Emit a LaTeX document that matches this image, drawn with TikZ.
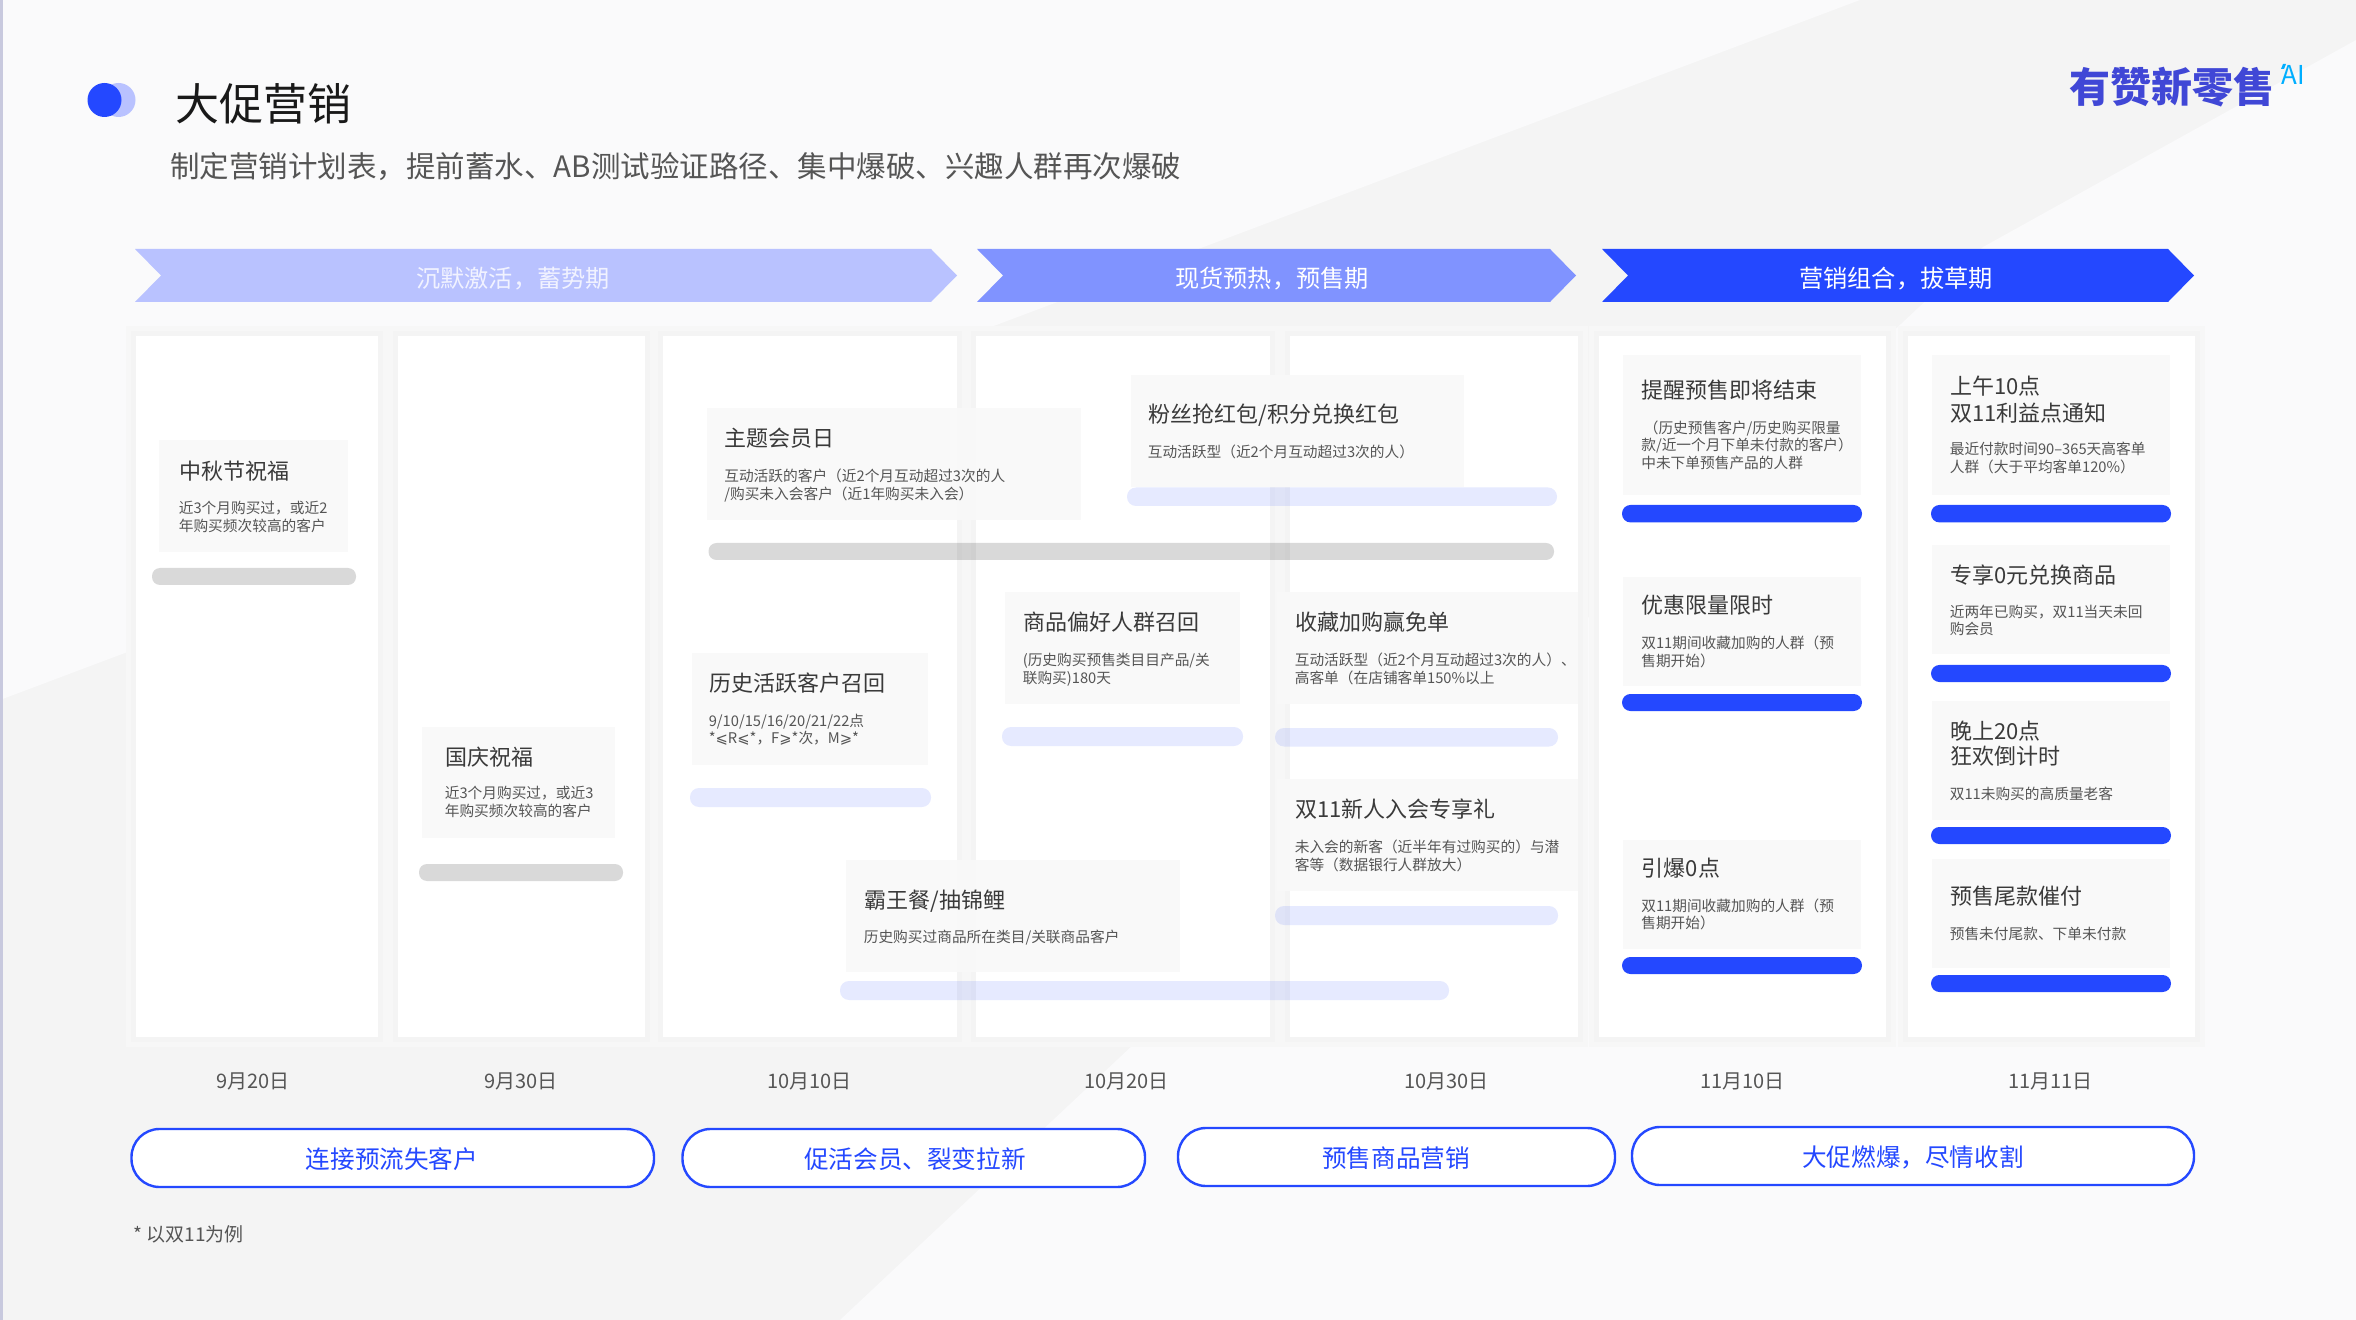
\documentclass[tikz,border=0pt]{standalone}
\usepackage{fontspec}
\setmainfont{Noto Sans CJK SC}
\newfontfamily\symf{DejaVu Sans}
\definecolor{bluex}{HTML}{2448FF}
\definecolor{midx}{HTML}{8093FF}
\definecolor{palex}{HTML}{B9C2FF}
\definecolor{boxx}{HTML}{F9F9F9}
\definecolor{gapx}{HTML}{F4F4F4}
\definecolor{gapy}{HTML}{F7F7F7}
\definecolor{bglight}{HTML}{FAFAFB}
\definecolor{stripex}{HTML}{C8C9DE}
\definecolor{brandx}{HTML}{4047D6}
\definecolor{aix}{HTML}{00AEFF}
\definecolor{ttlx}{HTML}{3A3A3A}
\definecolor{dscx}{HTML}{555555}
\tikzset{
  x=0.5pt,y=-0.5pt,
  colcard/.style={fill=white},
  colshadow/.style={fill=gapx},
  colhalo/.style={fill=gapy},
  cardbox/.style={fill=boxx,fill opacity=.9},
  greybar/.style={fill=black,fill opacity=.15,rounded corners=4pt},
  lightbar/.style={fill=bluex,fill opacity=.115,rounded corners=4.5pt},
  bluebar/.style={fill=bluex,rounded corners=4.2pt},
  cardtitle/.style={anchor=base west,inner sep=0pt,yshift=-.6pt,text=ttlx,font=\fontsize{11}{13}\selectfont},
  carddesc/.style={anchor=base west,inner sep=0pt,yshift=-.6pt,xshift=-.3pt,text=dscx,font=\fontsize{7.35}{9}\selectfont},
  datelabel/.style={anchor=base,inner sep=0pt,yshift=-.6pt,xshift=.6pt,text=dscx,font=\fontsize{10}{12}\selectfont},
  pill/.style={draw=bluex,line width=1.2pt,fill=white,rounded corners=14pt},
  pilltext/.style={inner sep=0pt,anchor=base,yshift=-.6pt,text=bluex,font=\fontsize{12.3}{14}\selectfont},
  arrowtext/.style={inner sep=0pt,anchor=base,yshift=-.6pt,font=\fontsize{12.1}{14}\selectfont}
}
\begin{document}
\begin{tikzpicture}
\useasboundingbox (0,0) rectangle (2356,1320);
% background
\fill[gapx] (0,0) rectangle (2356,1320);
\fill[bglight] (0,0) -- (1860,0) -- (0,700) -- cycle;
\fill[bglight] (2356,40) -- (1983,247) -- (840,1320) -- (2356,1320) -- cycle;
\fill[stripex] (0,0) rectangle (2.5,1320);
% logo dot and titles
\fill[palex] (118.5,100) circle[radius=17];
\fill[bluex] (104.5,100) circle[radius=17];
\node[anchor=base west,inner sep=0pt,text=black!90,font=\fontsize{22}{26}\selectfont] (maintitle) at (175,120.5) {大促营销};
\node[anchor=base west,inner sep=0pt,text=dscx,font=\fontsize{14.75}{18}\selectfont] (subtitle) at (170,177.5) {制定营销计划表，提前蓄水、AB测试验证路径、集中爆破、兴趣人群再次爆破};
\node[anchor=base west,inner sep=0pt,text=brandx,font=\bfseries\fontsize{20.5}{24}\selectfont] (brand) at (2069,102.5) {有赞新零售};
\node[anchor=base west,inner sep=0pt,text=aix,font=\fontsize{13}{15}\selectfont] (brandai) at (2281,85) {AI};
\fill[aix] (2283,64) -- (2286,64) -- (2284,69) -- (2281,69) -- cycle;
% arrows
\fill[palex] (135,249) -- (931,249) -- (957,275.5) -- (931,302) -- (135,302) -- (161,275.5) -- cycle;
\fill[midx] (977,249) -- (1550,249) -- (1576,275.5) -- (1550,302) -- (977,302) -- (1003,275.5) -- cycle;
\fill[bluex] (1602,249) -- (2168,249) -- (2194,275.5) -- (2168,302) -- (1602,302) -- (1628,275.5) -- cycle;
\node[arrowtext,text=white,text opacity=.8] (phasea) at (513,286) {沉默激活，蓄势期};
\node[arrowtext,text=white] (phaseb) at (1272,286) {现货预热，预售期};
\node[arrowtext,text=white] (phasec) at (1896,286) {营销组合，拔草期};
% columns
\foreach \a/\b in {136/378,398/645,663/957,976/1270,1290/1577.5,1599/1886,1908/2195}{
  \fill[colhalo] (\a-10,326) rectangle (\b+10,1047);
}
\foreach \a/\b in {136/378,398/645,663/957,976/1270,1290/1577.5,1599/1886,1908/2195}{
  \fill[colshadow] (\a-5,331) rectangle (\b+5,1042);
}
\foreach \a/\b in {136/378,398/645,663/957,976/1270,1290/1577.5,1599/1886,1908/2195}{
  \fill[colcard] (\a,336) rectangle (\b,1037);
}
% grey column 1, 2, long
\fill[cardbox] (159,440) rectangle (348,552);
\fill[greybar] (152,568) rectangle (356,585);
\node[cardtitle] (zq) at (179,478.5) {中秋节祝福};
\node[carddesc] (zqa) at (179,512.5) {近3个月购买过，或近2};
\node[carddesc] (zqb) at (179,530.5) {年购买频次较高的客户};
\fill[cardbox] (422,727) rectangle (615,838);
\fill[greybar] (419,864) rectangle (623,881);
\node[cardtitle] (gq) at (445,764) {国庆祝福};
\node[carddesc] (gqa) at (445,797.5) {近3个月购买过，或近3};
\node[carddesc] (gqb) at (445,815.5) {年购买频次较高的客户};
\fill[cardbox] (707,408) rectangle (1081,520);
\fill[greybar] (708.5,543) rectangle (1554,560);
\node[cardtitle] (zt) at (724.5,445.5) {主题会员日};
\node[carddesc] (zta) at (724.5,480) {互动活跃的客户（近2个月互动超过3次的人};
\node[carddesc] (ztb) at (724.5,498.5) {/购买未入会客户（近1年购买未入会）};
\fill[cardbox] (1131,375) rectangle (1464,487.5);
\fill[lightbar] (1127,487.5) rectangle (1557,506);
\node[cardtitle] (fs) at (1148,421.5) {粉丝抢红包/积分兑换红包};
\node[carddesc] (fsa) at (1148,456) {互动活跃型（近2个月互动超过3次的人）};
\fill[cardbox] (1005,592) rectangle (1240,704);
\fill[lightbar] (1002,727) rectangle (1243,746);
\node[cardtitle] (sp) at (1023,629.5) {商品偏好人群召回};
\node[carddesc] (spa) at (1023,664) {(历史购买预售类目目产品/关};
\node[carddesc] (spb) at (1023,682.5) {联购买)180天};
\fill[cardbox] (1277,592) rectangle (1577.5,704);
\fill[lightbar] (1275,728) rectangle (1558,746.5);
\node[cardtitle] (sc) at (1295,629.5) {收藏加购赢免单};
\node[carddesc] (sca) at (1295,664) {互动活跃型（近2个月互动超过3次的人）、};
\node[carddesc] (scb) at (1295,682.5) {高客单（在店铺客单150\%以上};
\fill[cardbox] (1277,779) rectangle (1577.5,891);
\fill[lightbar] (1275,906) rectangle (1558,925);
\node[cardtitle] (xr) at (1295,816.5) {双11新人入会专享礼};
\node[carddesc] (xra) at (1295,851) {未入会的新客（近半年有过购买的）与潜};
\node[carddesc] (xrb) at (1295,869) {客等（数据银行人群放大）};
\fill[cardbox] (692,653) rectangle (928,765);
\fill[lightbar] (690,788) rectangle (931,807);
\node[cardtitle] (ls) at (709,690.5) {历史活跃客户召回};
\node[carddesc] (lsa) at (709,725.5) {9/10/15/16/20/21/22点};
\node[carddesc] (lsb) at (709,742.5) {*{\symf ⩽}R{\symf ⩽}*，F{\symf ⩾}*次，M{\symf ⩾}*};
\fill[cardbox] (846,860) rectangle (1179.5,972);
\fill[lightbar] (840,981) rectangle (1449,1000);
\node[cardtitle] (bw) at (864,907) {霸王餐/抽锦鲤};
\node[carddesc] (bwa) at (864,941.5) {历史购买过商品所在类目/关联商品客户};
% column 6
\fill[cardbox] (1623,355) rectangle (1861,495);
\fill[bluebar] (1622,505) rectangle (1862,522.4);
\node[cardtitle] (tx) at (1641.5,397) {提醒预售即将结束};
\node[carddesc] (txa) at (1644,432.5) {（历史预售客户/历史购买限量};
\node[carddesc] (txb) at (1641.5,449.5) {款/近一个月下单未付款的客户）};
\node[carddesc] (txc) at (1641.5,467.5) {中未下单预售产品的人群};
\fill[cardbox] (1623,577) rectangle (1861,686);
\fill[bluebar] (1622,694) rectangle (1862,711);
\node[cardtitle] (yh) at (1641.5,612) {优惠限量限时};
\node[carddesc] (yha) at (1641.5,647) {双11期间收藏加购的人群（预};
\node[carddesc] (yhb) at (1641.5,665) {售期开始）};
\fill[cardbox] (1623,840) rectangle (1861,949);
\fill[bluebar] (1622,957) rectangle (1862,974);
\node[cardtitle] (yb) at (1641.5,875) {引爆0点};
\node[carddesc] (yba) at (1641.5,910) {双11期间收藏加购的人群（预};
\node[carddesc] (ybb) at (1641.5,927.5) {售期开始）};
% column 7
\fill[cardbox] (1932,355) rectangle (2170,495);
\fill[bluebar] (1931,505) rectangle (2171,522.4);
\node[cardtitle] (sw) at (1950,393) {上午10点};
\node[cardtitle] (swb) at (1950,420) {双11利益点通知};
\node[carddesc] (swc) at (1950,453.5) {最近付款时间90–365天高客单};
\node[carddesc] (swd) at (1950,471.5) {人群（大于平均客单120\%）};
\fill[cardbox] (1932,545) rectangle (2170,654);
\fill[bluebar] (1931,665) rectangle (2171,682);
\node[cardtitle] (zx) at (1950,582) {专享0元兑换商品};
\node[carddesc] (zxa) at (1950,616.5) {近两年已购买，双11当天未回};
\node[carddesc] (zxb) at (1950,633.5) {购会员};
\fill[cardbox] (1932,701) rectangle (2170,820);
\fill[bluebar] (1931,827) rectangle (2171,844);
\node[cardtitle] (ws) at (1950,738) {晚上20点};
\node[cardtitle] (wsb) at (1950,763) {狂欢倒计时};
\node[carddesc] (wsc) at (1950,798) {双11未购买的高质量老客};
\fill[cardbox] (1932,859) rectangle (2170,967.5);
\fill[bluebar] (1931,975) rectangle (2171,992);
\node[cardtitle] (ys) at (1950,903.5) {预售尾款催付};
\node[carddesc] (ysa) at (1950,938.5) {预售未付尾款、下单未付款};
% dates
\node[datelabel] (da) at (252,1087) {9月20日};
\node[datelabel] (db) at (520,1087) {9月30日};
\node[datelabel] (dc) at (808,1087) {10月10日};
\node[datelabel] (dd) at (1125,1087) {10月20日};
\node[datelabel] (de) at (1445,1087) {10月30日};
\node[datelabel] (df) at (1741,1087) {11月10日};
\node[datelabel] (dg) at (2049,1087) {11月11日};
% pills
\draw[pill] (131.5,1129) rectangle (654,1187);
\draw[pill] (682.5,1129) rectangle (1145,1187);
\draw[pill] (1178,1128) rectangle (1615,1186);
\draw[pill] (1632,1127) rectangle (2194,1185);
\node[pilltext] (pa) at (392,1167) {连接预流失客户};
\node[pilltext] (pb) at (915,1167) {促活会员、裂变拉新};
\node[pilltext] (pc) at (1396,1166) {预售商品营销};
\node[pilltext] (pd) at (1913,1165) {大促燃爆，尽情收割};
\node[anchor=base west,inner sep=0pt,yshift=-.6pt,text=dscx,font=\fontsize{9.5}{12}\selectfont] (note) at (133,1240) {* 以双11为例};
\end{tikzpicture}
\end{document}
